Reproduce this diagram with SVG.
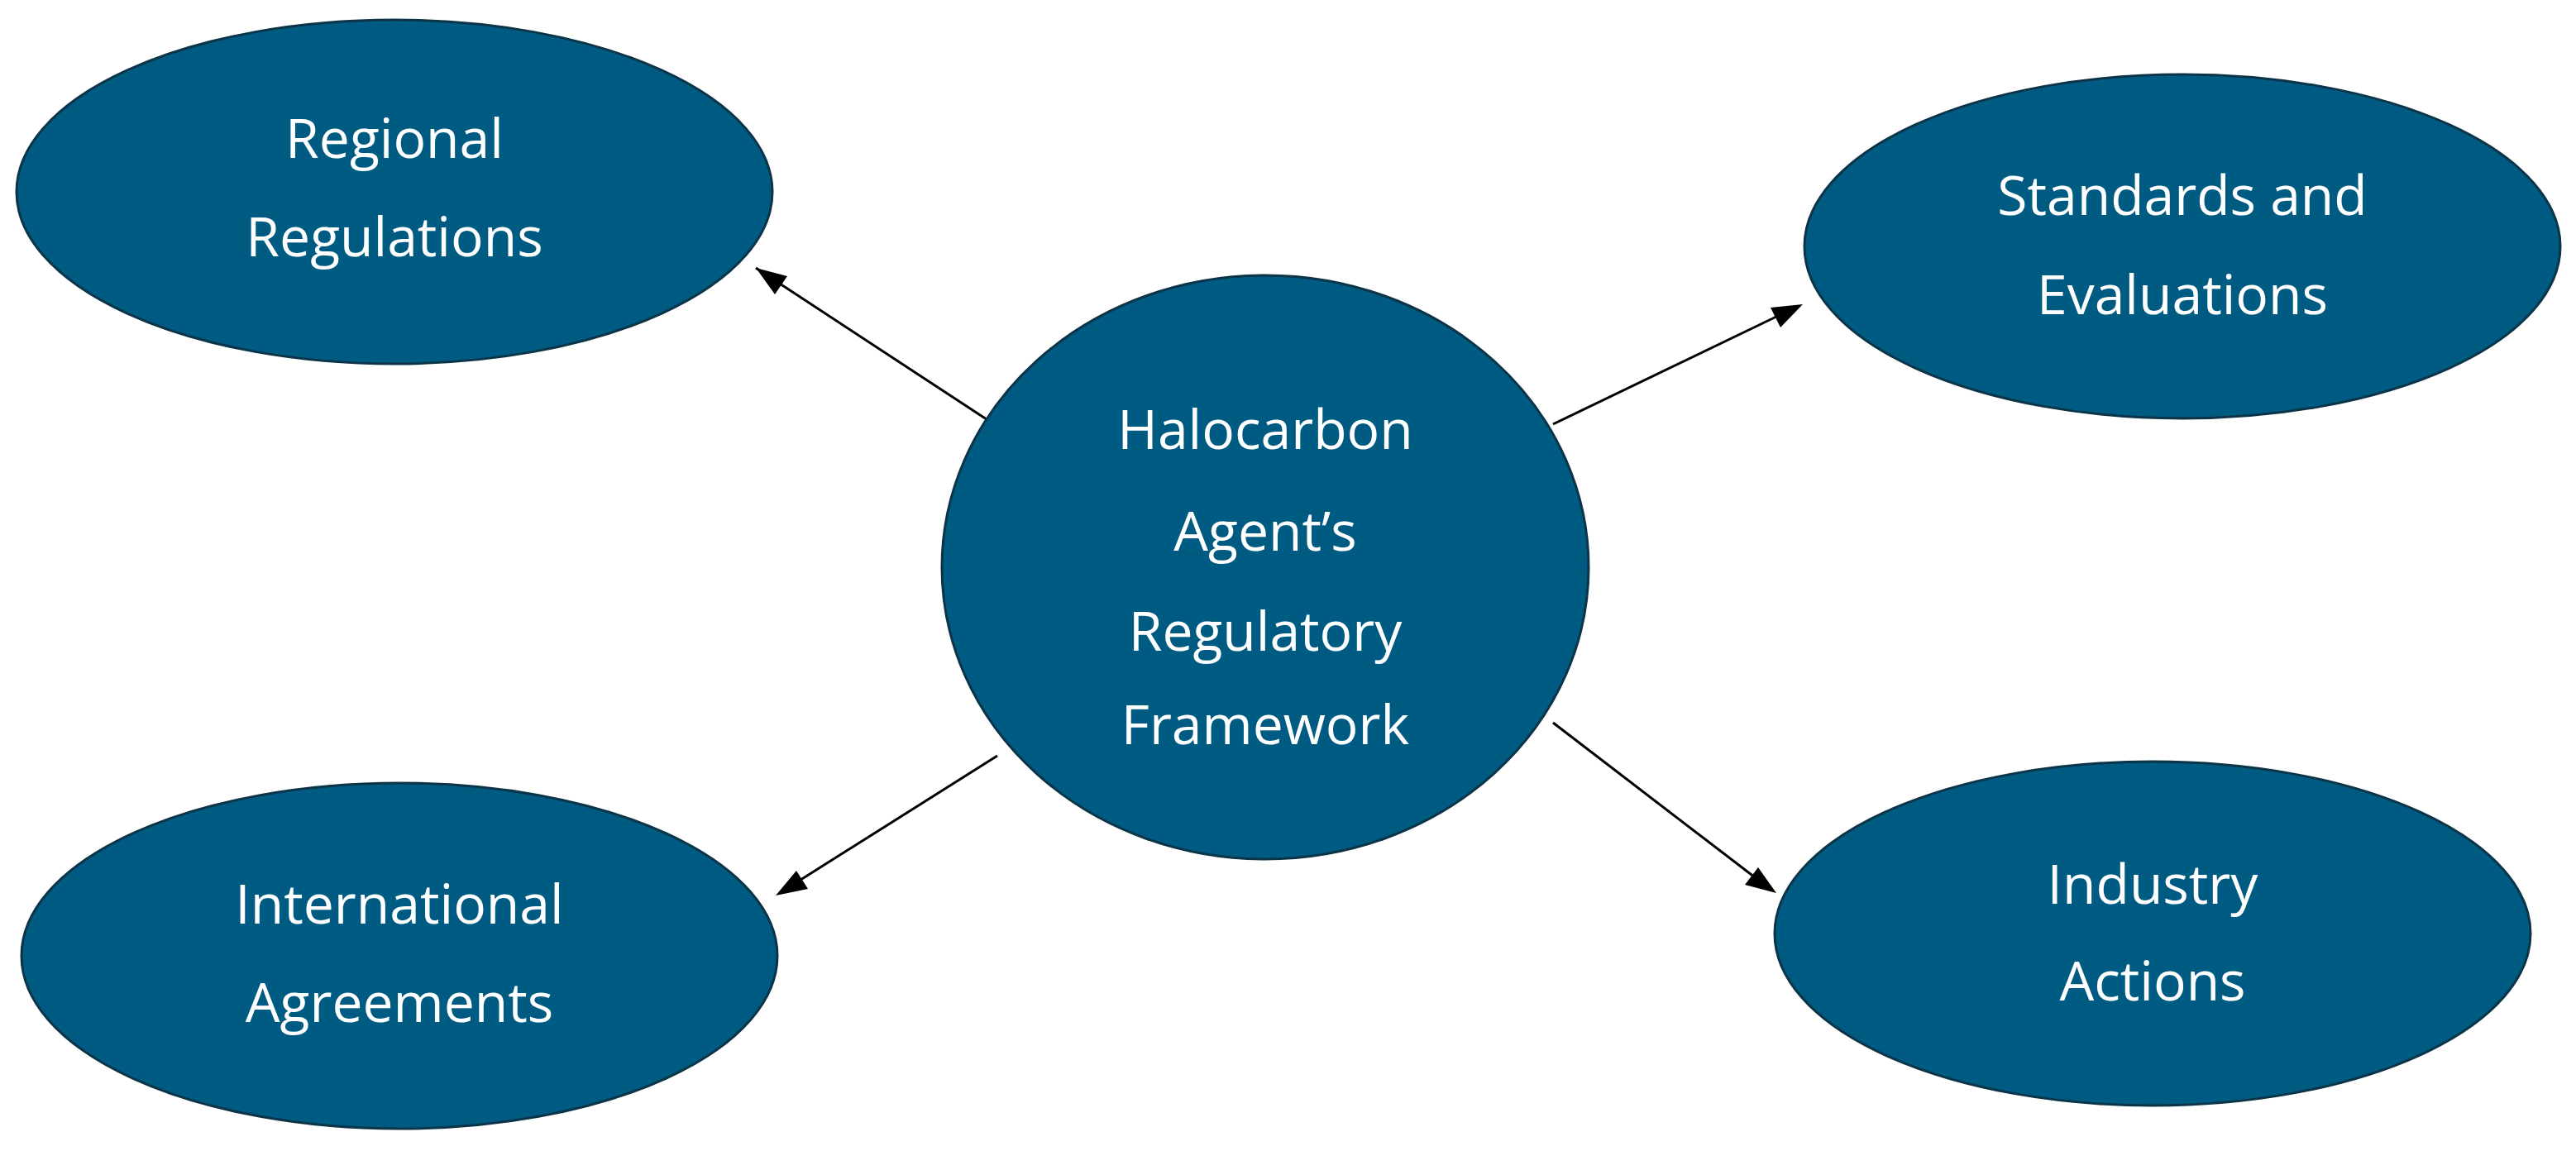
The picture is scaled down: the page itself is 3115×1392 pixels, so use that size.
<svg xmlns="http://www.w3.org/2000/svg" width="3115" height="1392" viewBox="0 0 3115 1392">
<style>
.n{fill:#005B82;stroke:#0b3448;stroke-width:3}
.t{font-family:"Open Sans","Liberation Sans",sans-serif;font-size:66px;fill:#fff;text-anchor:middle;dominant-baseline:central}
.c{stroke:#000;stroke-width:3;fill:none;marker-end:url(#a)}
</style>
<defs><marker id="a" markerWidth="12" markerHeight="10" refX="11" refY="5" orient="auto" markerUnits="userSpaceOnUse" viewBox="0 0 12 10"><path d="M0,0L12,5L0,10z" fill="#000"/></marker></defs>
<rect width="3115" height="1392" fill="#fff"/>
<g id="connectors">
<path class="c" d="M1202,513L914,324" style="marker-end:none"/>
<path d="M914,324l38,10l-15,22z" fill="#000"/>
<path class="c" d="M1878,513L2150,382" style="marker-end:none"/>
<path d="M2180,368l-27,28l-12,-24z" fill="#000"/>
<path class="c" d="M1206,914L965,1066" style="marker-end:none"/>
<path d="M938,1083l25,-30l14,22z" fill="#000"/>
<path class="c" d="M1878,874L2122,1061" style="marker-end:none"/>
<path d="M2148,1080l-38,-10l16,-21z" fill="#000"/>
</g>
<g id="regional"><ellipse class="n" cx="477" cy="232" rx="457" ry="208"/><text class="t" x="477" y="165">Regional</text><text class="t" x="477" y="284">Regulations</text></g>
<g id="standards"><ellipse class="n" cx="2639" cy="298" rx="457" ry="208"/><text class="t" x="2639" y="234">Standards and</text><text class="t" x="2639" y="354">Evaluations</text></g>
<g id="center"><ellipse class="n" cx="1530" cy="686" rx="391" ry="353"/><text class="t" x="1530" y="517">Halocarbon</text><text class="t" x="1530" y="640">Agent’s</text><text class="t" x="1530" y="761">Regulatory</text><text class="t" x="1530" y="874">Framework</text></g>
<g id="international"><ellipse class="n" cx="483" cy="1156" rx="457" ry="209"/><text class="t" x="483" y="1091">International</text><text class="t" x="483" y="1210">Agreements</text></g>
<g id="industry"><ellipse class="n" cx="2603" cy="1129" rx="457" ry="208"/><text class="t" x="2603" y="1067">Industry</text><text class="t" x="2603" y="1184">Actions</text></g>
</svg>
